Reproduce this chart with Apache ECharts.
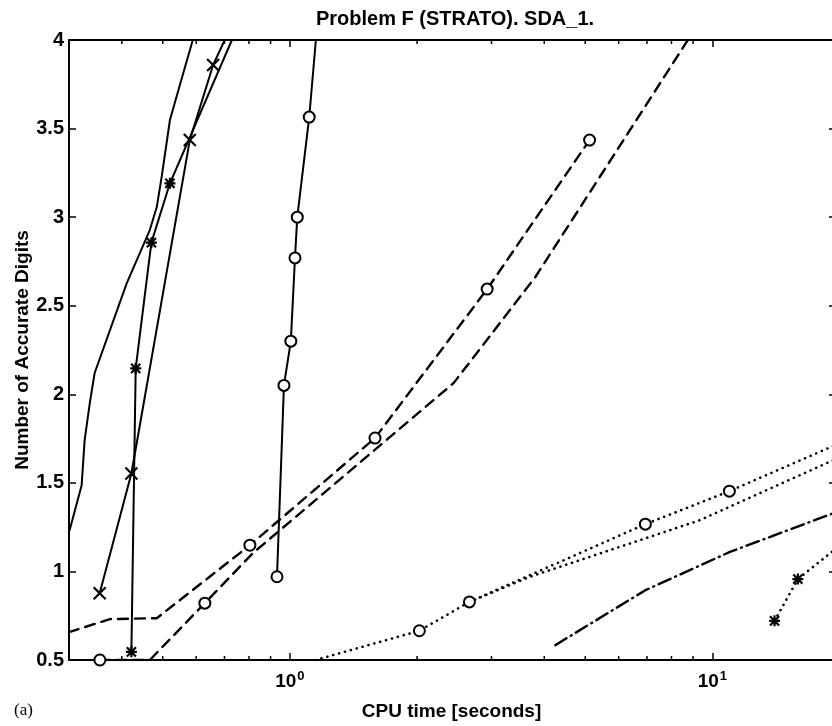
<!DOCTYPE html>
<html>
<head>
<meta charset="utf-8">
<script src="https://cdn.jsdelivr.net/npm/echarts@6/dist/echarts.min.js"></script>
<style>
html,body{margin:0;padding:0;background:#fff;}
#chart{width:832px;height:726px;}
</style>
</head>
<body>
<div id="chart"></div>
<script>
// values (x = CPU time, log scale; y = accurate digits)
var plain_x = [0.301, 0.3214, 0.3267, 0.336, 0.345, 0.411, 0.466, 0.484, 0.497, 0.520, 0.543, 0.589];
var plain_y = [1.233, 1.487, 1.741, 1.95, 2.12, 2.628, 2.927, 3.057, 3.226, 3.548, 3.706, 4.0];

var cross_x = [0.3546, 0.4215, 0.5795, 0.658, 0.701];
var cross_y = [0.877, 1.553, 3.435, 3.859, 4.0];
var cross_mark = [1, 1, 1, 1, 0];

var star_x = [0.4215, 0.4315, 0.470, 0.520, 0.729];
var star_y = [0.546, 2.146, 2.856, 3.191, 4.0];
var star_mark = [1, 1, 1, 1, 0];

var circ_x = [0.932, 0.968, 1.005, 1.028, 1.041, 1.111, 1.152];
var circ_y = [0.97, 2.05, 2.30, 2.77, 3.0, 3.565, 4.0];
var circ_mark = [1, 1, 1, 1, 1, 1, 0];

var dashA_x = [0.3, 0.375, 0.484, 0.804, 1.59, 2.93, 5.12];
var dashA_y = [0.657, 0.731, 0.736, 1.148, 1.753, 2.594, 3.435];
var dashA_mark = [0, 0, 0, 1, 1, 1, 1];

var dashB_x = [0.355, 0.466, 0.629, 0.817, 2.44, 3.81, 8.75];
var dashB_y = [0.5, 0.5, 0.821, 1.103, 2.063, 2.662, 4.0];
var dashB_mark = [1, 0, 1, 0, 0, 0, 0];

var dotA_x = [1.15, 2.025, 2.66, 6.94, 10.97, 19.4];
var dotA_y = [0.5, 0.665, 0.828, 1.267, 1.453, 1.71];
var dotA_mark = [0, 1, 1, 1, 1, 0];

var dotB_x = [2.66, 3.70, 9.36, 19.4];
var dotB_y = [0.828, 0.97, 1.29, 1.63];

var dashdot_x = [4.25, 6.94, 11.0, 19.4];
var dashdot_y = [0.584, 0.894, 1.11, 1.33];

var dotStar_x = [14.03, 15.93, 19.4];
var dotStar_y = [0.721, 0.957, 1.12];
var dotStar_mark = [1, 1, 0];

var minorTicks = [0.4, 0.5, 0.6, 0.7, 0.8, 0.9, 2, 3, 4, 5, 6, 7, 8, 9];

var FONT = "'Liberation Sans', Arial, Helvetica, sans-serif";
var CROSS = 'path://M0,0L10,10M10,0L0,10';
var ASTER = 'path://M0,0L10,10M10,0L0,10M5,-1L5,11M-1,5L11,5';

var chart = echarts.init(document.getElementById('chart'));

function pts(xs, ys, marks){
	return xs.map(function(x, i){
		var d = {value: [x, ys[i]]};
		if(marks && !marks[i]) d.symbol = 'none';
		return d;
	});
}

function lineSeries(xs, ys, marks, sym, size, dash){
	var w = 2, t = dash || 'solid';
	if(dash === 'dot'){ w = 2.6; t = [0.1, 6]; }
	else if(dash !== 'solid'){ w = 2.4; }
	return {
		type: 'line',
		data: pts(xs, ys, marks),
		symbol: sym || 'none',
		symbolSize: size || 10,
		showSymbol: !!sym,
		clip: true,
		lineStyle: {color: '#000', width: w, type: t, cap: 'round'},
		itemStyle: {color: '#000', borderColor: '#000', borderWidth: 2.2},
		emphasis: {disabled: true}
	};
}

chart.setOption({
	animation: false,
	backgroundColor: '#fff',
	grid: {left: 69, top: 40, width: 765, height: 620, outerBoundsMode: 'none', containLabel: false},
	xAxis: [{
		type: 'log', logBase: 10, min: 0.3, max: 19.4,
		name: 'CPU time [seconds]', nameLocation: 'middle', nameGap: 42,
		nameTextStyle: {fontFamily: FONT, fontSize: 19, fontWeight: 'bold', color: '#000'},
		axisLine: {lineStyle: {color: '#000', width: 2}},
		axisTick: {inside: true, length: 7, lineStyle: {color: '#000', width: 1.5}},
		splitLine: {show: false},
		axisLabel: {
			margin: 10, color: '#000',
			formatter: function(v){
				var e = Math.log10(v);
				if(Math.abs(e - Math.round(e)) > 1e-6) return '';
				return '{b|10}{s|' + Math.round(e) + '}';
			},
			rich: {
				b: {fontFamily: FONT, fontSize: 19, fontWeight: 'bold', color: '#000'},
				s: {fontFamily: FONT, fontSize: 13, fontWeight: 'bold', color: '#000', verticalAlign: 'top', padding: [0, 0, 10, 1]}
			}
		}
	}, {
		type: 'log', logBase: 10, min: 0.3, max: 19.4, position: 'top',
		axisLine: {lineStyle: {color: '#000', width: 2}},
		axisTick: {inside: true, length: 7, lineStyle: {color: '#000', width: 1.5}},
		axisLabel: {show: false},
		splitLine: {show: false}
	}],
	yAxis: [{
		type: 'value', min: 0.5, max: 4, interval: 0.5,
		name: 'Number of Accurate Digits', nameLocation: 'middle', nameGap: 37, nameMoveOverlap: false,
		nameTextStyle: {fontFamily: FONT, fontSize: 19, fontWeight: 'bold', color: '#000'},
		axisLine: {show: true, lineStyle: {color: '#000', width: 2}},
		axisTick: {show: true, inside: true, length: 7, lineStyle: {color: '#000', width: 1.5}},
		splitLine: {show: false},
		axisLabel: {margin: 5, fontFamily: FONT, fontSize: 20, fontWeight: 'bold', color: '#000'}
	}, {
		type: 'value', min: 0.5, max: 4, interval: 0.5, position: 'right',
		axisLine: {show: true, lineStyle: {color: '#000', width: 2}},
		axisTick: {show: true, inside: true, length: 5, lineStyle: {color: '#000', width: 1.5}},
		axisLabel: {show: false},
		splitLine: {show: false}
	}],
	graphic: [{
		type: 'text', x: 455, y: 19,
		style: {text: 'Problem F (STRATO). SDA_1.', font: 'bold 20px ' + FONT, fill: '#000', align: 'center', verticalAlign: 'middle'}
	}, {
		type: 'text', x: 14, y: 711,
		style: {text: '(a)', font: '17px "Liberation Serif", "Times New Roman", serif', fill: '#000', align: 'left', verticalAlign: 'middle'}
	}],
	series: [
		lineSeries(plain_x, plain_y, null, null, 0, 'solid'),
		lineSeries(cross_x, cross_y, cross_mark, CROSS, 12, 'solid'),
		lineSeries(star_x, star_y, star_mark, ASTER, 11, 'solid'),
		lineSeries(circ_x, circ_y, circ_mark, 'emptyCircle', 11, 'solid'),
		lineSeries(dashA_x, dashA_y, dashA_mark, 'emptyCircle', 11, [10, 7]),
		lineSeries(dashB_x, dashB_y, dashB_mark, 'emptyCircle', 11, [10, 7]),
		lineSeries(dotA_x, dotA_y, dotA_mark, 'emptyCircle', 11, 'dot'),
		lineSeries(dotB_x, dotB_y, null, null, 0, 'dot'),
		lineSeries(dashdot_x, dashdot_y, null, null, 0, [13, 5, 1, 5]),
		lineSeries(dotStar_x, dotStar_y, dotStar_mark, ASTER, 11, 'dot'),
		{
			// minor log ticks on top and bottom frame
			type: 'custom',
			data: minorTicks.map(function(v){ return [v, 0.5]; }),
			renderItem: function(params, api){
				var b = api.coord([api.value(0), 0.5]);
				var t = api.coord([api.value(0), 4]);
				return {type: 'group', children: [
					{type: 'line', shape: {x1: b[0], y1: b[1], x2: b[0], y2: b[1] - 4}, style: {stroke: '#000', lineWidth: 1.5}},
					{type: 'line', shape: {x1: t[0], y1: t[1], x2: t[0], y2: t[1] + 4}, style: {stroke: '#000', lineWidth: 1.5}}
				]};
			},
			silent: true,
			z: 3
		}
	]
});
</script>
</body>
</html>
